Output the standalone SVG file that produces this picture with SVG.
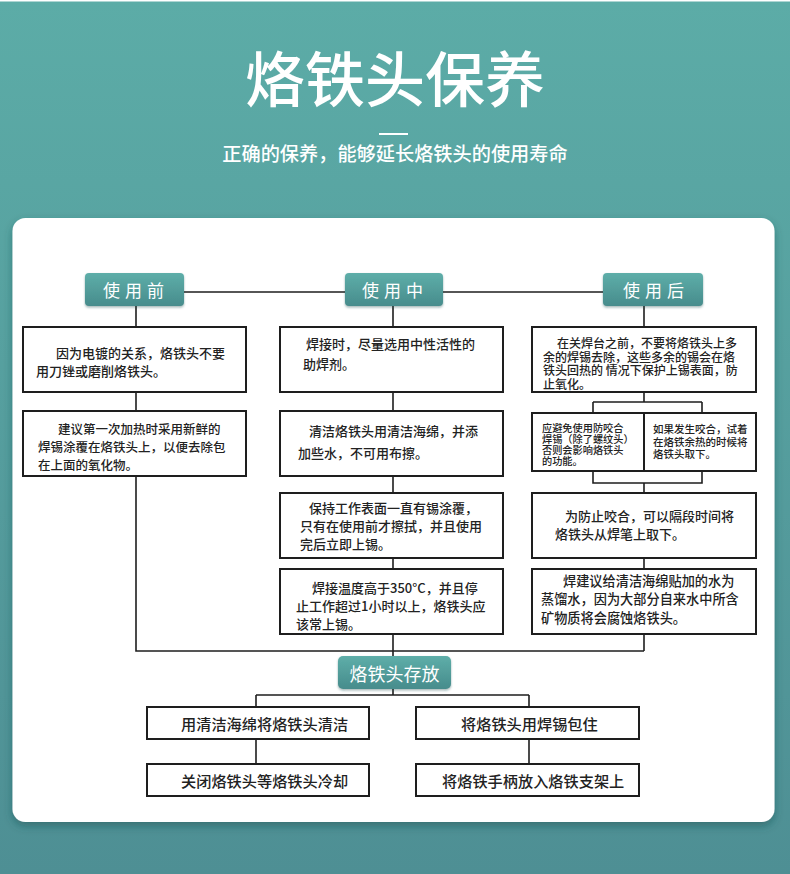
<svg xmlns="http://www.w3.org/2000/svg" width="790" height="874" viewBox="0 0 790 874">
<defs>
<linearGradient id="bg" x1="0" y1="0" x2="0" y2="1">
<stop offset="0" stop-color="#5CACA7"/>
<stop offset="1" stop-color="#4E8F94"/>
</linearGradient>
<linearGradient id="hd" x1="0" y1="0" x2="0" y2="1">
<stop offset="0" stop-color="#5EAEA9"/>
<stop offset="1" stop-color="#478C8C"/>
</linearGradient>
<filter id="sh" x="-5%" y="-5%" width="110%" height="115%">
<feDropShadow dx="0" dy="4" stdDeviation="4" flood-color="#1d4a4c" flood-opacity="0.45"/>
</filter>
<filter id="hs" x="-10%" y="-10%" width="120%" height="140%">
<feDropShadow dx="0" dy="1.5" stdDeviation="1" flood-color="#1d4a4c" flood-opacity="0.4"/>
</filter>
</defs>
<style>
.t{font-family:"Noto Sans CJK SC","Noto Sans",sans-serif;fill:#222;font-weight:500;dominant-baseline:central}
.w{font-family:"Noto Sans CJK SC","Noto Sans",sans-serif;fill:#fff;dominant-baseline:central}
.box{fill:#fff;stroke:#1e1e1e;stroke-width:2}
.hb{fill:url(#hd);filter:url(#hs)}
.ln{fill:none;stroke:#1e1e1e;stroke-width:1.6}
</style>
<rect x="0" y="0" width="790" height="874" fill="url(#bg)"/>
<rect x="0" y="0" width="790" height="1.5" fill="#fff"/>
<g id="title">
<text class="w" x="395" y="75" font-size="60" text-anchor="middle" font-weight="500">烙铁头保养</text>
<rect x="379" y="133" width="29" height="2" fill="#fff"/>
<text class="w" x="395" y="153" font-size="19.2" text-anchor="middle" font-weight="500">正确的保养，能够延长烙铁头的使用寿命</text>
</g>
<rect id="card" x="12.5" y="218" width="762" height="604" rx="13" fill="#fff" filter="url(#sh)"/>
<g id="connectors">
<path class="ln" d="M136 292H644"/>
<path class="ln" d="M136 306V327M136 392V411M136 476V651H644"/>
<path class="ln" d="M393 306V327M393 392V411M393 476V493M393 558V569M393 634V656"/>
<path class="ln" d="M644 306V327M644 392V402M593 402H702M593 402V413M702 402V413"/>
<path class="ln" d="M593 471V483H702V471M644 483V493M644 558V569M644 634V651"/>
<path class="ln" d="M393 689V695M256 695H529M256 695V707M529 695V707M256 739V764M529 739V764"/>
</g>
<g id="h1"><rect class="hb" x="85" y="273" width="99" height="33" rx="4"/><text class="w" x="103" y="289.5" font-size="17" letter-spacing="5">使用前</text></g>
<g id="h2"><rect class="hb" x="345" y="273" width="98" height="33" rx="4"/><text class="w" x="362" y="289.5" font-size="17" letter-spacing="5">使用中</text></g>
<g id="h3"><rect class="hb" x="603" y="273" width="100" height="33" rx="4"/><text class="w" x="623" y="289.5" font-size="17" letter-spacing="5">使用后</text></g>
<g id="l1"><rect class="box" x="23" y="327" width="223" height="65"/>
<text class="t" font-size="13"><tspan x="56" y="352">因为电镀的关系，烙铁头不要</tspan><tspan x="36" y="370">用刀锉或磨削烙铁头。</tspan></text></g>
<g id="l2"><rect class="box" x="23" y="411" width="223" height="65"/>
<text class="t" font-size="12.5"><tspan x="58" y="428">建议第一次加热时采用新鲜的</tspan><tspan x="38" y="446">焊锡涂覆在烙铁头上，以便去除包</tspan><tspan x="38" y="464">在上面的氧化物。</tspan></text></g>
<g id="m1"><rect class="box" x="280" y="327" width="223" height="65"/>
<text class="t" font-size="13"><tspan x="306" y="343">焊接时，尽量选用中性活性的</tspan><tspan x="303" y="363">助焊剂。</tspan></text></g>
<g id="m2"><rect class="box" x="280" y="411" width="223" height="65"/>
<text class="t" font-size="13"><tspan x="309" y="430">清洁烙铁头用清洁海绵，并添</tspan><tspan x="298" y="452">加些水，不可用布擦。</tspan></text></g>
<g id="m3"><rect class="box" x="280" y="493" width="223" height="65"/>
<text class="t" font-size="13"><tspan x="309" y="507">保持工作表面一直有锡涂覆，</tspan><tspan x="300" y="525">只有在使用前才擦拭，并且使用</tspan><tspan x="300" y="543">完后立即上锡。</tspan></text></g>
<g id="m4"><rect class="box" x="280" y="569" width="223" height="65"/>
<text class="t" font-size="13"><tspan x="312" y="587">焊接温度高于350°C，并且停</tspan><tspan x="296" y="605">止工作超过1小时以上，烙铁头应</tspan><tspan x="296" y="623">该常上锡。</tspan></text></g>
<g id="r1"><rect class="box" x="532" y="327" width="224" height="65"/>
<text class="t" font-size="12"><tspan x="557" y="342">在关焊台之前，不要将烙铁头上多</tspan><tspan x="543" y="355.5">余的焊锡去除，这些多余的锡会在烙</tspan><tspan x="543" y="369">铁头回热的 情况下保护上锡表面，防</tspan><tspan x="543" y="383">止氧化。</tspan></text></g>
<g id="r2a"><rect class="box" x="532" y="413" width="112" height="58"/>
<text class="t" font-size="10.2"><tspan x="542" y="426.5">应避免使用防咬合</tspan><tspan x="542" y="437.8">焊锡（除了螺纹头）</tspan><tspan x="542" y="449.1">否则会影响烙铁头</tspan><tspan x="542" y="460.4">的功能。</tspan></text></g>
<g id="r2b"><rect class="box" x="644" y="413" width="112" height="58"/>
<text class="t" font-size="10.5"><tspan x="653" y="428">如果发生咬合，试着</tspan><tspan x="653" y="440.5">在烙铁余热的时候将</tspan><tspan x="653" y="453">烙铁头取下。</tspan></text></g>
<g id="r3"><rect class="box" x="532" y="493" width="224" height="65"/>
<text class="t" font-size="13"><tspan x="565" y="515">为防止咬合，可以隔段时间将</tspan><tspan x="555" y="533">烙铁头从焊笔上取下。</tspan></text></g>
<g id="r4"><rect class="box" x="532" y="569" width="224" height="65"/>
<text class="t" font-size="13.2"><tspan x="563" y="580">焊建议给清洁海绵贴加的水为</tspan><tspan x="541" y="598">蒸馏水，因为大部分自来水中所含</tspan><tspan x="541" y="617">矿物质将会腐蚀烙铁头。</tspan></text></g>
<g id="store"><rect class="hb" x="338" y="656" width="113" height="33" rx="5"/><text class="w" x="394.5" y="673" font-size="18" text-anchor="middle">烙铁头存放</text></g>
<g id="b1"><rect class="box" x="147" y="707" width="222" height="32"/><text class="t" x="181" y="722.5" font-size="15.2">用清洁海绵将烙铁头清洁</text></g>
<g id="b2"><rect class="box" x="416" y="707" width="223" height="32"/><text class="t" x="461" y="722.5" font-size="15.2">将烙铁头用焊锡包住</text></g>
<g id="b3"><rect class="box" x="147" y="764" width="222" height="32"/><text class="t" x="181" y="780" font-size="15.2">关闭烙铁头等烙铁头冷却</text></g>
<g id="b4"><rect class="box" x="416" y="764" width="223" height="32"/><text class="t" x="442" y="780" font-size="15.2">将烙铁手柄放入烙铁支架上</text></g>
</svg>
